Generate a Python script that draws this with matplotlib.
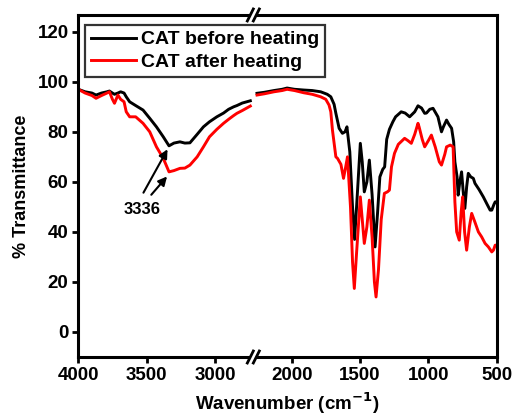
import numpy as np
import matplotlib
matplotlib.use("Agg")
import matplotlib.pyplot as plt

plt.rcParams["font.family"] = ["Liberation Sans", "DejaVu Sans"]
plt.rcParams["font.weight"] = "bold"

# Spectra (wavenumber in cm-1, % transmittance)
wn_left = [4000, 3950, 3900, 3870, 3830, 3790, 3772, 3750, 3735, 3710, 3690, 3665,
           3649, 3624, 3580, 3526, 3477, 3428, 3378, 3336, 3300, 3256, 3220, 3183,
           3130, 3084, 3040, 2986, 2937, 2900, 2863, 2839, 2800, 2741]
before_left = [97, 96, 95.5, 94.7, 95.5, 96, 96.3, 95.5, 95, 95.5, 96, 95.5,
               94, 92, 90.5, 88.7, 85.4, 82, 78, 74.4, 75.5, 76, 75.5, 75.6,
               79, 82, 84, 86, 87.5, 89, 90, 90.5, 91.5, 92.4]
after_left = [97, 95.5, 94.5, 93.4, 94.5, 95.5, 96, 93, 91.4, 94.7, 93, 92,
              88, 86, 86, 83.4, 80, 74, 69.4, 64, 64.5, 65.4, 65.5, 66.7,
              70, 74, 78, 81, 83.4, 85, 86.5, 87.4, 88.5, 90.3]

wn_before_right = [2254, 2200, 2130, 2070, 2034, 1980, 1911, 1850, 1788, 1740,
                   1714, 1690, 1677, 1653, 1629, 1610, 1596, 1575, 1555, 1540,
                   1520, 1498, 1484, 1469, 1450, 1432, 1412, 1390, 1372, 1355,
                   1334, 1320, 1305, 1285, 1260, 1240, 1211, 1199, 1170, 1137,
                   1100, 1076, 1050, 1027, 1014, 990, 966, 930, 904, 890,
                   867, 850, 830, 815, 806, 790, 782, 770, 757, 745,
                   733, 720, 708, 690, 671, 659, 630, 598, 570, 548,
                   536, 520, 511, 500]
before_right = [95.4, 95.8, 96.5, 97, 97.5, 97, 96.7, 96.5, 96, 95,
                94, 91, 87.4, 81.4, 79.4, 80, 82, 72, 50, 37,
                55, 75.4, 68, 56, 60, 68.7, 55, 34, 47.5, 62,
                65, 66, 77, 81, 84, 86, 87.4, 88, 87.5, 86,
                88, 90.4, 89.5, 87.4, 87.5, 89, 89.4, 86, 80, 82,
                84.7, 83, 81.4, 76, 68, 62, 54.7, 60, 64, 56,
                49.4, 58, 63.4, 62, 61.4, 59.4, 57, 54, 51, 48.7,
                48.7, 51, 52, 52]

wn_after_right = [2254, 2200, 2130, 2070, 2034, 1980, 1911, 1850, 1788, 1751,
                  1727, 1714, 1702, 1677, 1665, 1640, 1621, 1605, 1592, 1570,
                  1555, 1542, 1525, 1498, 1484, 1469, 1450, 1432, 1412, 1395,
                  1383, 1365, 1345, 1322, 1300, 1285, 1270, 1248, 1220, 1174,
                  1150, 1125, 1100, 1076, 1068, 1045, 1027, 1000, 978, 950,
                  920, 904, 880, 867, 840, 819, 806, 793, 774, 760,
                  749, 735, 720, 700, 683, 660, 634, 610, 585, 561,
                  536, 524, 511, 500]
after_right = [94.7, 95.2, 96, 96.5, 97, 96.5, 95.6, 95, 94, 93,
               90.7, 88, 80.7, 70, 69.4, 67, 61.4, 66, 70, 50,
               28, 17.4, 32, 54, 45, 35.4, 42, 52.7, 38, 20,
               14, 25, 45, 55.4, 56, 56.7, 66, 71.4, 75, 77.4,
               76.5, 75.4, 79, 83.4, 82, 77, 74, 76.5, 78.7, 74,
               68, 66.7, 71, 74, 74.7, 74, 52, 40, 36.7, 48,
               54, 40, 32.7, 42, 47.4, 44, 40, 38, 35.4, 34,
               32, 32.7, 34.7, 34.7]

x_ticks = [4000, 3500, 3000, 2000, 1500, 1000, 500]
y_ticks = [0, 20, 40, 60, 80, 100, 120]
peak_label = "3336"

# broken x axis: squeeze 2720..2280 cm-1 into almost nothing
w_knots = [-1e6, 2280, 2720, 1e6]
u_knots = [-1e6, 2280, 2282, 1e6 - 438]


def forward(w):
    return np.interp(w, w_knots, u_knots)


def inverse(u):
    return np.interp(u, u_knots, w_knots)


fig = plt.figure(figsize=(5.16, 4.16), dpi=100)
ax = fig.add_axes([0.1517, 0.1418, 0.8109, 0.8222])
ax.set_xscale("function", functions=(forward, inverse))

ax.plot(wn_left, before_left, color="black", lw=2.1, label="CAT before heating")
ax.plot(wn_before_right, before_right, color="black", lw=2.1)
ax.plot(wn_left, after_left, color="red", lw=2.1, label="CAT after heating")
ax.plot(wn_after_right, after_right, color="red", lw=2.1)

ax.set_xlim(4000, 500)
ax.set_ylim(-10, 126.7)
ax.set_xticks(x_ticks)
ax.set_xticklabels([str(t) for t in x_ticks])
ax.set_yticks(y_ticks)
ax.minorticks_off()
ax.tick_params(direction="out", length=4, width=2, labelsize=13.5, pad=3)
for s in ax.spines.values():
    s.set_linewidth(2.2)

ax.set_xlabel("Wavenumber (cm$^{\\mathbf{-1}}$)", fontsize=13.5, fontweight="bold", labelpad=5)
ax.set_ylabel("% Transmittance", fontsize=13, fontweight="bold", labelpad=5)

leg = ax.legend(loc="upper left", bbox_to_anchor=(0.016, 0.971), fontsize=14,
                frameon=True, fancybox=False, edgecolor="black",
                handlelength=2.3, handletextpad=0.3, borderpad=0.3,
                labelspacing=0.25, borderaxespad=0)
leg.get_frame().set_linewidth(1.6)
for t in leg.get_texts():
    t.set_fontweight("bold")

# peak arrows
ax.annotate("", xy=(3337, 74), xytext=(3533, 54.7),
            arrowprops=dict(arrowstyle="-|>", color="black", lw=1.5, mutation_scale=13))
ax.annotate("", xy=(3337, 63), xytext=(3479, 54),
            arrowprops=dict(arrowstyle="-|>", color="black", lw=1.5, mutation_scale=13))
ax.text(3533, 49, peak_label, ha="center", va="center", fontsize=12, fontweight="bold")

# break marks on top and bottom spines
fig.canvas.draw()
xb = ax.transAxes.inverted().transform(ax.transData.transform((2500, 0)))[0]
bbox = ax.get_window_extent()
dx = 1.0 / bbox.width
dy = 1.0 / bbox.height
for yb in (0, 1):
    ax.plot([xb - 3 * dx, xb + 3 * dx], [yb, yb], transform=ax.transAxes,
            color="white", lw=3.5, clip_on=False, zorder=5, solid_capstyle="butt")
    for off in (-3, 3):
        xc = xb + off * dx
        ax.plot([xc - 3 * dx, xc + 3 * dx], [yb - 6 * dy, yb + 6 * dy],
                transform=ax.transAxes, color="black", lw=2, clip_on=False, zorder=6)

fig.savefig("out.png", dpi=100)
